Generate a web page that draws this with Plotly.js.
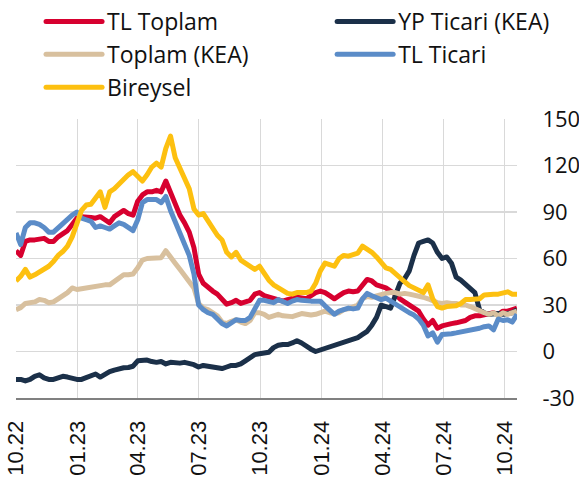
<!DOCTYPE html>
<html>
<head>
<meta charset="utf-8">
<script src="https://cdn.plot.ly/plotly-3.0.1.min.js"></script>
<style>
  html, body { margin: 0; padding: 0; background: #ffffff; }
  #chart { width: 579px; height: 484px; }
  .legendlines path { stroke-linecap: round; }
  .scatterlayer .js-line { stroke-linejoin: round; }
</style>
</head>
<body>
<div id="chart"></div>
<script>
// Weekly observations, first week 2022-10-01, 108 weeks
const firstWeek = '2022-10-01';
const weekCount = 108;

const seriesNames = ['TL Toplam', 'YP Ticari (KEA)', 'Toplam (KEA)', 'TL Ticari', 'Bireysel'];

const tlToplam = [65, 62, 71, 72, 72, 72.5, 73, 71, 71, 74, 76, 78, 82, 86, 87, 87, 86.5, 86, 87, 85,
  83, 87, 89, 91, 89, 88, 97, 101, 103, 103, 104, 103, 110, 102, 95, 88, 83, 77, 67, 50,
  44, 41, 39, 37, 34, 30.5, 31.5, 33, 31, 32, 33, 37, 38, 36, 35, 34.5, 33, 32.5, 33.5, 34,
  35, 34.5, 34, 36, 38, 39, 38, 36, 34, 36, 38, 39, 38.5, 39, 43, 46.5, 45.5, 43, 42, 41,
  39, 37, 34, 32, 29.5, 28, 26, 21, 17, 20, 15, 16.5, 17.5, 18, 18.5, 19, 20, 22, 23, 23,
  23.5, 24, 25, 24, 26, 26, 27, 28];

const ypTicariKEA = [-18, -18, -19, -18, -16, -15, -17, -18, -18, -17, -16, -16.5, -17.5, -18, -18, -17, -15.5, -14.5, -16.5, -14.5,
  -13, -12, -11, -10.5, -10.3, -9.5, -6, -5.5, -5.5, -6.5, -7, -6.5, -8, -7, -7.5, -7.5, -7, -7.5, -8.5, -10,
  -9, -9.5, -10, -10.5, -11, -10, -9, -9, -8, -6, -4, -2, -1.5, -1, -0.5, 2.5, 4, 4.5, 4.5, 5.5,
  7, 5.5, 3, 1.5, 0, 1, 1.5, 2.5, 3.5, 4.5, 5.5, 6.5, 7.5, 9, 11, 13, 17, 22, 30, 29,
  28, 36, 44, 47, 52, 62, 70, 71, 72, 70, 64, 60, 61, 57, 48, 46, 43, 41, 38, 27,
  25, 24, 24.5, 24.5, 24, 24.5, 25, 27];

const toplamKEA = [27, 28.3, 31, 31.5, 32, 33.5, 33, 31.5, 32, 34, 36, 38, 41, 40, 40.5, 41, 42, 42.5, 43, 43,
  43, 45.5, 48, 49.5, 49.5, 50, 54, 59, 60, 60, 60.4, 60.5, 65, 60.5, 57, 53, 49, 45, 41, 31,
  28, 27, 25, 23, 19, 18, 19.5, 20.5, 19, 18, 20, 25, 25, 24, 22, 23, 24, 23, 22.5, 22.5,
  23.5, 24.5, 24, 23.5, 24, 25, 26, 25, 24.5, 25, 27, 27.5, 28.5, 30, 34, 35.5, 35, 36, 37, 37.5,
  38, 38, 37, 37.5, 37, 36.5, 36, 35, 34, 32.5, 31.5, 31, 31.5, 31, 31, 30, 30, 29, 27.5, 26,
  25, 24, 25, 23, 25, 24, 25, 26];

const tlTicari = [76.5, 69, 80, 83, 83, 82, 80, 77, 77, 80, 83, 85, 88, 90, 86, 85, 84, 80, 81, 80,
  79, 81, 83, 82, 80, 78, 85, 96, 98, 98, 98, 96, 100, 91, 84, 78, 70, 62, 50, 30,
  27, 25, 24, 21, 18, 16.5, 18.5, 20.5, 20, 20, 22, 27, 33, 33, 32, 31.5, 33.5, 32, 31, 32.5,
  33.5, 33, 32.5, 32.5, 32.5, 32.5, 29.5, 27, 24, 26, 27, 28, 27.5, 28, 34, 37.5, 36, 34.5, 33.5, 34.5,
  32.5, 31, 29, 26.5, 25, 23.5, 21, 17, 10, 12, 6, 11, 11, 11.5, 12, 12.5, 13, 14, 14.5, 15,
  16, 16.5, 14, 21, 20, 20.5, 19, 24];

const bireysel = [45.5, 48.5, 53, 48, 49.5, 51.5, 53, 55, 58, 62, 64.5, 68, 74, 83, 91, 94.5, 95, 99, 103, 93,
  103, 105, 108, 112, 114, 116, 113, 110, 114, 119, 121.5, 119, 131, 139, 125, 118, 111, 105, 92, 88,
  89, 84, 79, 75, 72, 64, 61, 64, 59, 57, 55, 53, 55, 50, 46, 43, 41, 39, 37.5, 37,
  38, 38, 38, 39, 44, 52, 57, 56, 55, 60, 62, 61.5, 62.5, 63.5, 68, 66, 64, 61, 57, 54,
  53, 50, 47, 45, 42.5, 41, 39.5, 38, 43, 34, 29, 28, 29, 29.5, 29.5, 31, 33.5, 33.5, 34, 34,
  36.5, 37, 37, 37, 38, 38.5, 37, 37];

const tickVals = ['2022-10-01', '2023-01-01', '2023-04-01', '2023-07-01', '2023-10-01',
  '2024-01-01', '2024-04-01', '2024-07-01', '2024-10-01'];
const tickLabels = ['10.22', '01.23', '04.23', '07.23', '10.23', '01.24', '04.24', '07.24', '10.24'];
const yTicks = [-30, 0, 30, 60, 90, 120, 150];

// build the weekly date categories
const weeks = [];
(function () {
  const d0 = new Date(firstWeek + 'T00:00:00Z');
  for (let i = 0; i < weekCount; i++) {
    const d = new Date(d0.getTime() + i * 7 * 86400000);
    weeks.push(d.toISOString().slice(0, 10));
  }
})();

const colors = {
  'TL Toplam': '#D7002F',
  'YP Ticari (KEA)': '#1B3049',
  'Toplam (KEA)': '#D8C09E',
  'TL Ticari': '#5B8CC8',
  'Bireysel': '#FDC010'
};

function trace(name, values, legendId) {
  return {
    type: 'scatter', mode: 'lines', name: name,
    x: weeks, y: values,
    line: { color: colors[name], width: 5, shape: 'linear' },
    legend: legendId,
    hoverinfo: 'skip'
  };
}

const data = [
  trace('TL Toplam', tlToplam, 'legend'),
  trace('YP Ticari (KEA)', ypTicariKEA, 'legend2'),
  trace('Toplam (KEA)', toplamKEA, 'legend'),
  trace('TL Ticari', tlTicari, 'legend2'),
  trace('Bireysel', bireysel, 'legend')
];

const legendFont = { family: 'Open Sans, sans-serif', size: 23, color: '#111111' };

const layout = {
  width: 579, height: 484,
  margin: { l: 16, r: 62, t: 119, b: 86, pad: 0, autoexpand: false },
  paper_bgcolor: '#ffffff', plot_bgcolor: '#ffffff',
  showlegend: true,
  xaxis: {
    type: 'date',
    range: [weeks[0], weeks[weeks.length - 1]],
    tickmode: 'array', tickvals: tickVals, ticktext: tickLabels,
    tickangle: -90,
    tickfont: { family: 'Liberation Sans, Arial, sans-serif', size: 22, color: '#111111' },
    ticks: 'outside', ticklen: 12, tickcolor: 'rgba(0,0,0,0)',
    showgrid: true, gridcolor: '#d9d9d9', gridwidth: 1,
    showline: true, linecolor: '#808080', linewidth: 2,
    zeroline: false, fixedrange: true
  },
  yaxis: {
    side: 'right',
    range: [-30, 150],
    tickmode: 'array', tickvals: yTicks, ticktext: yTicks.map(String),
    tickfont: { family: 'Open Sans, sans-serif', size: 22, color: '#111111' },
    ticks: 'outside', ticklen: 20, tickcolor: 'rgba(0,0,0,0)',
    showgrid: true, gridcolor: '#d9d9d9', gridwidth: 1.5,
    showline: false, zeroline: false, fixedrange: true
  },
  legend: {
    x: 0.05, xanchor: 'left', yref: 'container', y: 1, yanchor: 'top',
    orientation: 'v', bgcolor: 'rgba(0,0,0,0)', borderwidth: 0,
    font: legendFont, itemwidth: 56, tracegroupgap: 0,
    itemclick: false, itemdoubleclick: false
  },
  legend2: {
    x: 0.631, xanchor: 'left', yref: 'container', y: 1, yanchor: 'top',
    orientation: 'v', bgcolor: 'rgba(0,0,0,0)', borderwidth: 0,
    font: legendFont, itemwidth: 56, tracegroupgap: 0,
    itemclick: false, itemdoubleclick: false
  }
};

Plotly.newPlot('chart', data, layout, { staticPlot: true, displayModeBar: false });
</script>
</body>
</html>
